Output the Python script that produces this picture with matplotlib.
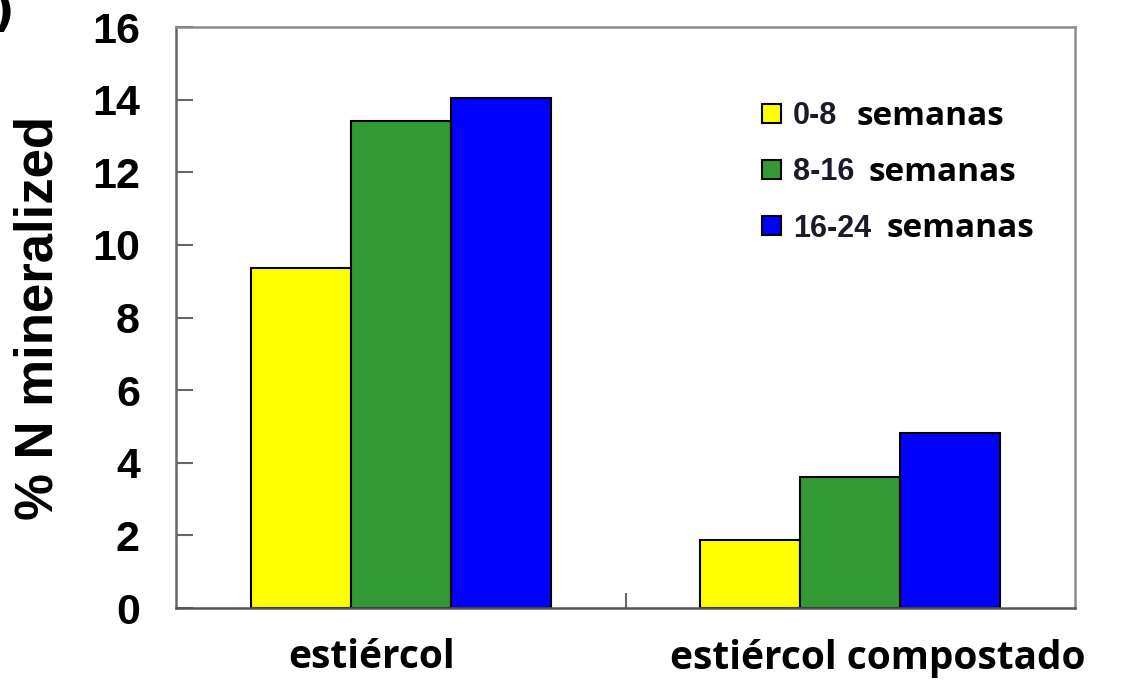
import matplotlib
matplotlib.use("Agg")
import matplotlib.pyplot as plt
import matplotlib.transforms as mtransforms
import numpy as np

categories = ["estiércol", "estiércol compostado"]
periods = ["0-8", "8-16", "16-24"]
period_suffix = "semanas"
values = {
    "0-8": [9.35, 1.88],
    "8-16": [13.42, 3.62],
    "16-24": [14.05, 4.83],
}
colors = ["#FFFF00", "#339933", "#0000FF"]
yticks = [0, 2, 4, 6, 8, 10, 12, 14, 16]
ylabel = "% N mineralized"

W, H = 1121, 681
fig = plt.figure(figsize=(W / 100, H / 100), dpi=100)
ax = fig.add_axes([176 / W, (H - 608) / H, (1075 - 176) / W, (608 - 27) / H])

x = np.arange(len(categories))
width = 0.2222
handles = []
for i, (p, c) in enumerate(zip(periods, colors)):
    b = ax.bar(x + (i - 1) * width, values[p], width, color=c,
               edgecolor="black", linewidth=1.5, label=p, zorder=2)
    handles.append(b)

ax.set_xlim(-0.5, 1.5)
ax.set_ylim(0, 16)
ax.set_yticks(yticks)
ax.set_yticklabels([str(t) for t in yticks], fontfamily="Liberation Sans",
                   fontweight="bold", fontsize=31)
ax.tick_params(axis="y", direction="in", length=12, width=1.5, color="#666666",
               pad=26)
ax.set_xticks([0.5])
ax.set_xticklabels([])
ax.tick_params(axis="x", direction="in", length=11, width=1.5, color="#666666")

for s in ax.spines.values():
    s.set_color("#8a8a8a")
    s.set_linewidth(1.8)
ax.spines["bottom"].set_color("#555555")
ax.spines["left"].set_color("#666666")

ax.set_ylabel(ylabel, fontfamily="Liberation Sans", fontweight="bold",
              fontsize=38)
ax.yaxis.set_label_coords(-(176 - 64) / (1075 - 176), 0.5)

# category labels (slightly off-centre as in the reference)
trans = mtransforms.blended_transform_factory(ax.transData, fig.transFigure)
label_x = [-0.064, 1.062]
for cx, cat in zip(label_x, categories):
    ax.text(cx, (H - 658) / H, cat, transform=trans, ha="center", va="center",
            fontfamily="Open Sans", fontweight="bold", fontsize=28, clip_on=False)

leg = ax.legend(handles=handles, labels=periods, loc="upper left",
                bbox_to_anchor=(762 / W, 1 - 101 / H), bbox_transform=fig.transFigure,
                frameon=False, borderpad=0, borderaxespad=0,
                handlelength=0.62, handleheight=0.56, handletextpad=0.39,
                labelspacing=0.86,
                prop={"family": "Liberation Sans", "weight": "bold", "size": 22})
for t in leg.get_texts():
    t.set_color("#1a1a2a")

row_baseline = [125, 181, 237]
row_x = [857, 868, 887]
for rx, ry in zip(row_x, row_baseline):
    fig.text(rx / W, 1 - ry / H, period_suffix, ha="left", va="baseline",
             fontfamily="Open Sans", fontweight="bold", fontsize=24)

fig.text(-8 / W, 1 - 14 / H, ")", ha="left", va="center", fontsize=34,
         fontweight="bold", fontfamily="DejaVu Sans")

fig.savefig("out.png", dpi=100)
